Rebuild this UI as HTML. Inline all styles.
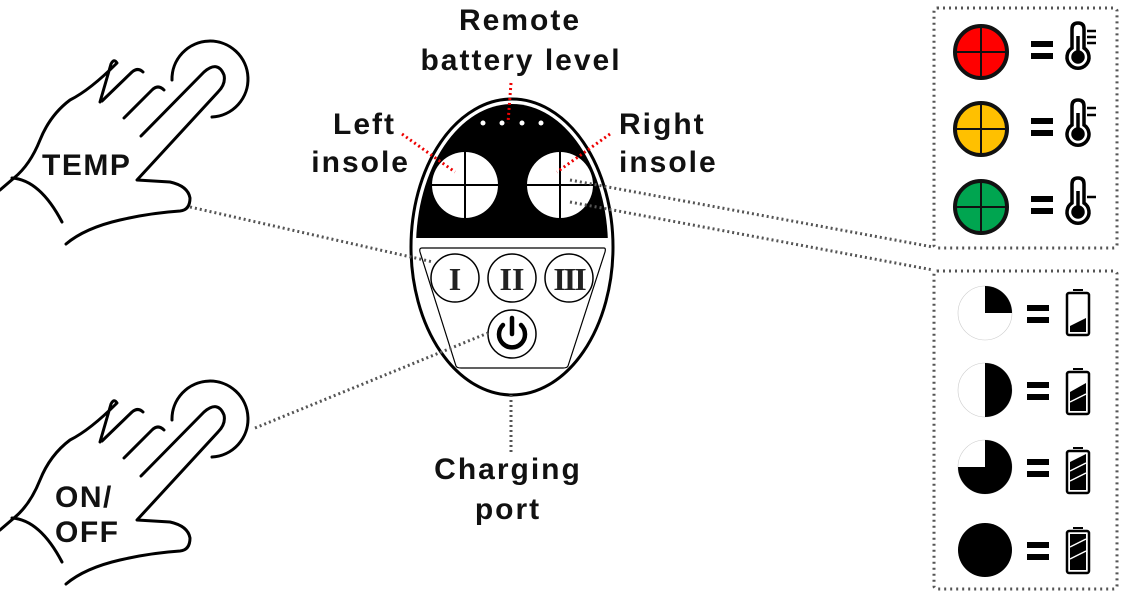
<!DOCTYPE html>
<html><head><meta charset="utf-8"><style>
html,body{margin:0;padding:0;background:#fff;}
svg{display:block;}
text{font-family:"Liberation Sans",sans-serif;font-weight:bold;fill:#111;}
</style></head><body>
<svg width="1136" height="600" viewBox="0 0 1136 600" xmlns="http://www.w3.org/2000/svg">
<defs>
<g id="hand" fill="none" stroke="#000" stroke-width="3" stroke-linecap="round" stroke-linejoin="round">
  <path d="M172,80 A38,38 0 1 1 212,117"/>
  <path d="M141,136 L204,72 Q218,60 224,75 Q226,84 218,92 L137,180 L170,182 Q188,186 190,198 Q190,210 180,211 Q150,213 120,220 Q85,228 66,244"/>
  <path d="M102,101 L132,72 Q138,67 143,72"/>
  <path d="M124,118 L152,90 Q158,84 164,90"/>
  <path d="M100,102 L111,64 Q114,58 117,63 Q90,90 70,100 Q50,115 40,140 Q30,165 14,178 L0,190"/>
  <path d="M12,178 Q40,180 62,222"/>
</g>
</defs>

<!-- hands -->
<use href="#hand"/>
<text x="42" y="175" font-size="30" letter-spacing="1.5">TEMP</text>
<use href="#hand" transform="translate(0,340)"/>
<text x="55" y="507" font-size="30" letter-spacing="1.5">ON/</text>
<text x="55" y="542" font-size="30" letter-spacing="1.5">OFF</text>

<!-- device -->
<ellipse cx="512" cy="247" rx="101" ry="148" fill="#fff" stroke="#000" stroke-width="3"/>
<clipPath id="dc"><ellipse cx="512" cy="247" rx="96" ry="143"/></clipPath>
<g clip-path="url(#dc)">
<path d="M410,238 L410,150 Q430,103 512,103 Q594,103 614,150 L614,238 Z" fill="#000"/>
</g>
<g fill="#fff">
  <circle cx="483" cy="123" r="2.5"/><circle cx="502" cy="123" r="2.5"/>
  <circle cx="522" cy="123" r="2.5"/><circle cx="541" cy="123" r="2.5"/>
  <circle cx="465" cy="185" r="33"/><circle cx="560" cy="185" r="33"/>
</g>
<g stroke="#000" stroke-width="2">
  <line x1="432" y1="185" x2="498" y2="185"/><line x1="465" y1="152" x2="465" y2="218"/>
  <line x1="527" y1="185" x2="593" y2="185"/><line x1="560" y1="152" x2="560" y2="218"/>
</g>
<path d="M422,248 L604,248 Q606,248 605,252 L568,366 Q567,368 563,368 L461,368 Q457,368 456,366 L420,252 Q419,248 422,248 Z" fill="none" stroke="#000" stroke-width="1.2"/>
<g fill="#fff" stroke="#000" stroke-width="1.5">
  <circle cx="455" cy="278" r="24"/><circle cx="512" cy="278" r="24"/><circle cx="569" cy="278" r="24"/>
  <circle cx="512" cy="334" r="24"/>
</g>
<g text-anchor="middle">
  <text x="455" y="290" font-size="32" style="font-family:'Liberation Serif',serif;fill:#222">I</text>
  <text x="512" y="290" font-size="32" style="font-family:'Liberation Serif',serif;fill:#222">II</text>
  <text x="569" y="290" font-size="32" style="font-family:'Liberation Serif',serif;fill:#222" letter-spacing="-2">III</text>
</g>
<path d="M503,325 A13,13 0 1 0 521,325" fill="none" stroke="#000" stroke-width="4.5" stroke-linecap="round"/>
<line x1="512" y1="318" x2="512" y2="334" stroke="#000" stroke-width="4.5" stroke-linecap="round"/>

<!-- gray dotted connectors -->
<g stroke="#555" stroke-width="3" stroke-dasharray="2,3" fill="none">
  <line x1="190" y1="207" x2="433" y2="262"/>
  <line x1="255" y1="428" x2="488" y2="333"/>
  <line x1="511" y1="395" x2="511" y2="452"/>
  <line x1="570" y1="180" x2="933" y2="247"/>
  <line x1="570" y1="202" x2="933" y2="270"/>
</g>

<!-- red dotted -->
<g stroke="#e00" stroke-width="3" stroke-dasharray="2,3" fill="none">
  <line x1="511" y1="83" x2="508" y2="123"/>
  <line x1="402" y1="134" x2="455" y2="172"/>
  <line x1="610" y1="134" x2="557" y2="172"/>
</g>

<!-- labels -->
<g font-size="30" letter-spacing="2">
<text x="520" y="30" text-anchor="middle">Remote</text>
<text x="521" y="70" text-anchor="middle">battery level</text>
<text x="396" y="134" text-anchor="end">Left</text>
<text x="410" y="172" text-anchor="end">insole</text>
<text x="619" y="134">Right</text>
<text x="619" y="172">insole</text>
<text x="508" y="479" text-anchor="middle">Charging</text>
<text x="508" y="519" text-anchor="middle">port</text>
</g>

<!-- legend boxes -->
<g stroke="#555" stroke-width="3" stroke-dasharray="2,4" fill="none">
  <rect x="934" y="8" width="183" height="240" rx="3"/>
  <rect x="934" y="271" width="183" height="318" rx="3"/>
</g>

<!-- temp legend -->
<g stroke="#111" stroke-width="4">
  <circle cx="981" cy="52" r="26" fill="#f00"/>
  <circle cx="981" cy="129" r="26" fill="#ffc000"/>
  <circle cx="981" cy="207" r="26" fill="#00a550"/>
</g>
<g stroke="#111" stroke-width="2">
  <line x1="955" y1="52" x2="1007" y2="52"/><line x1="981" y1="26" x2="981" y2="78"/>
  <line x1="955" y1="129" x2="1007" y2="129"/><line x1="981" y1="103" x2="981" y2="155"/>
  <line x1="955" y1="207" x2="1007" y2="207"/><line x1="981" y1="181" x2="981" y2="233"/>
</g>
<g fill="#000">
  <rect x="1031" y="41" width="22" height="6"/><rect x="1031" y="53" width="22" height="6"/>
  <rect x="1031" y="118" width="22" height="6"/><rect x="1031" y="130" width="22" height="6"/>
  <rect x="1031" y="196" width="22" height="6"/><rect x="1031" y="208" width="22" height="6"/>
</g>
<g id="th" fill="none" stroke="#000" stroke-width="3.5">
  <path d="M1072,48 L1072,29 Q1072,23 1078,23 Q1084,23 1084,29 L1084,48 A11,11 0 1 1 1072,48 Z"/>
  <circle cx="1078" cy="57" r="5" fill="#000"/>
  <line x1="1078" y1="36" x2="1078" y2="55"/>
</g>
<use href="#th" transform="translate(0,77)"/>
<use href="#th" transform="translate(0,155)"/>
<g stroke="#000" stroke-width="2.5">
  <line x1="1087" y1="31" x2="1096" y2="31"/><line x1="1087" y1="37" x2="1096" y2="37"/><line x1="1087" y1="43" x2="1096" y2="43"/>
  <line x1="1087" y1="108" x2="1096" y2="108"/><line x1="1087" y1="115" x2="1096" y2="115"/>
  <line x1="1087" y1="197" x2="1096" y2="197"/>
</g>

<!-- battery legend -->
<g>
  <circle cx="985" cy="313" r="27" fill="#fff" stroke="#ccc" stroke-width="0.6"/>
  <path d="M985,313 L985,286 A27,27 0 0 1 1012,313 Z" fill="#000"/>
  <circle cx="985" cy="390" r="27" fill="#fff" stroke="#ccc" stroke-width="0.6"/>
  <path d="M985,363 A27,27 0 0 1 985,417 Z" fill="#000"/>
  <circle cx="985" cy="467" r="27" fill="#fff" stroke="#ccc" stroke-width="0.6"/>
  <path d="M985,467 L985,440 A27,27 0 1 1 958,467 Z" fill="#000"/>
  <circle cx="985" cy="550" r="27" fill="#000"/>
</g>
<g fill="#000">
  <rect x="1027" y="305" width="22" height="6"/><rect x="1027" y="317" width="22" height="6"/>
  <rect x="1027" y="382" width="22" height="6"/><rect x="1027" y="394" width="22" height="6"/>
  <rect x="1027" y="459" width="22" height="6"/><rect x="1027" y="471" width="22" height="6"/>
  <rect x="1027" y="542" width="22" height="6"/><rect x="1027" y="554" width="22" height="6"/>
</g>
<g fill="none" stroke="#000" stroke-width="2.5">
  <rect x="1067" y="293" width="22" height="42" rx="2"/>
  <rect x="1067" y="372" width="22" height="42" rx="2"/>
  <rect x="1067" y="451" width="22" height="42" rx="2"/>
  <rect x="1067" y="531" width="22" height="42" rx="2"/>
</g>
<g fill="#000">
  <rect x="1073" y="289" width="10" height="2"/><rect x="1073" y="368" width="10" height="2"/>
  <rect x="1073" y="447" width="10" height="2"/><rect x="1073" y="527" width="10" height="2"/>
  <path d="M1070,326 L1086,318 L1086,332 L1070,332 Z"/>
  <path d="M1070,392 L1086,383 L1086,411 L1070,411 Z"/>
  <path d="M1070,462 L1086,454 L1086,490 L1070,490 Z"/>
  <rect x="1070" y="534" width="16" height="36"/>
</g>
<g stroke="#fff" stroke-width="1.5">
  <line x1="1070" y1="402" x2="1086" y2="394"/>
  <line x1="1070" y1="471" x2="1086" y2="463"/><line x1="1070" y1="481" x2="1086" y2="473"/>
  <line x1="1070" y1="547" x2="1086" y2="539"/><line x1="1070" y1="559" x2="1086" y2="551"/>
</g>
</svg>
</body></html>
